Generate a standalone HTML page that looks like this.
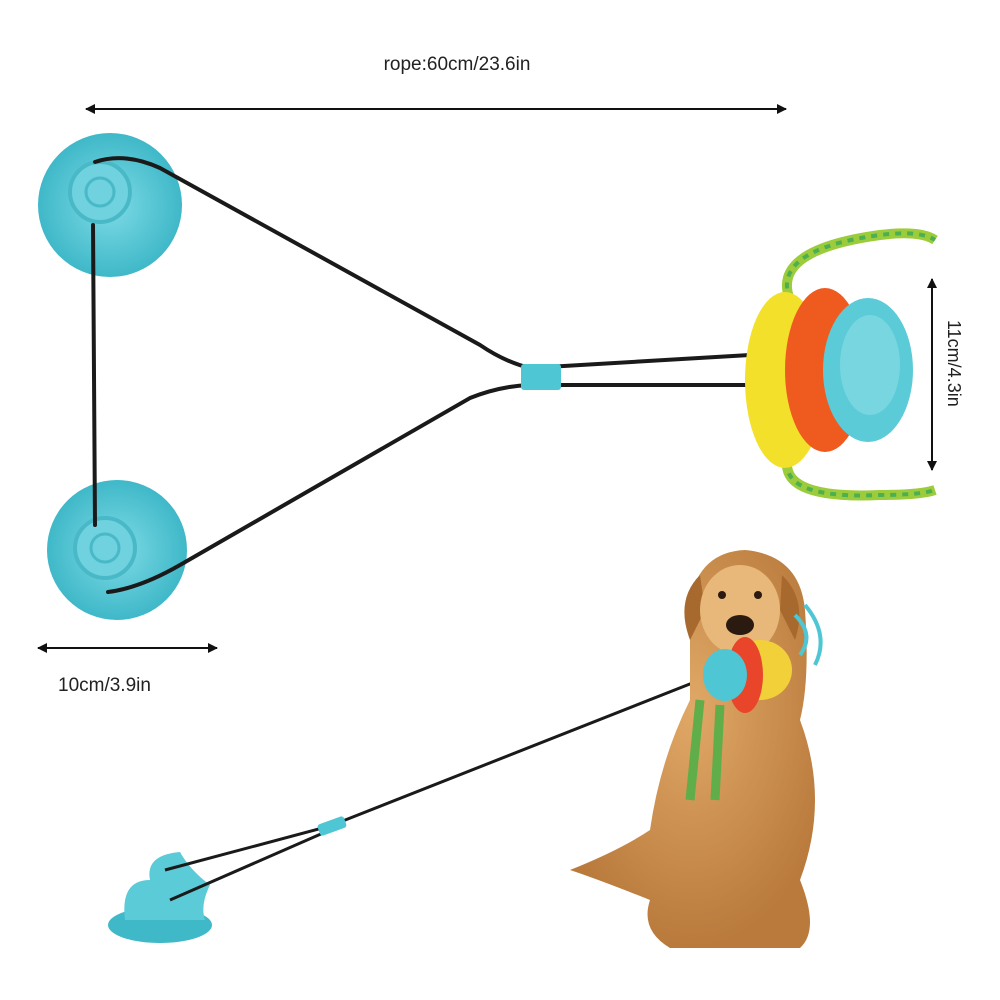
<!DOCTYPE html>
<html><head><meta charset="utf-8"><style>
html,body{margin:0;padding:0;background:#fff;width:1000px;height:1000px;overflow:hidden}
svg{display:block}
text{font-family:"Liberation Sans",sans-serif;fill:#222}
</style></head><body>
<svg width="1000" height="1000" viewBox="0 0 1000 1000" xmlns="http://www.w3.org/2000/svg">
<defs>
<marker id="a" markerWidth="10" markerHeight="10" refX="9" refY="5" orient="auto-start-reverse" markerUnits="userSpaceOnUse"><path d="M0,0 L10,5 L0,10 z" fill="#111"/></marker>
<radialGradient id="cup" cx="50%" cy="50%" r="50%"><stop offset="0" stop-color="#7fdbe6"/><stop offset="1" stop-color="#3fb8c8"/></radialGradient>
<radialGradient id="dog" cx="50%" cy="40%" r="60%"><stop offset="0" stop-color="#e0a866"/><stop offset="1" stop-color="#b97a3c"/></radialGradient>
</defs>

<text x="457" y="70" font-size="19" text-anchor="middle">rope:60cm/23.6in</text>
<line x1="86" y1="109" x2="786" y2="109" stroke="#111" stroke-width="2" marker-start="url(#a)" marker-end="url(#a)"/>

<circle cx="110" cy="205" r="72" fill="url(#cup)"/>
<circle cx="100" cy="192" r="30" fill="#6fd2de" stroke="#49b9c8" stroke-width="4"/>
<circle cx="100" cy="192" r="14" fill="none" stroke="#49b9c8" stroke-width="3"/>
<circle cx="117" cy="550" r="70" fill="url(#cup)"/>
<circle cx="105" cy="548" r="30" fill="#6fd2de" stroke="#49b9c8" stroke-width="4"/>
<circle cx="105" cy="548" r="14" fill="none" stroke="#49b9c8" stroke-width="3"/>

<g fill="none" stroke="#1a1a1a" stroke-width="4" stroke-linecap="round">
<path d="M95,162 Q125,152 160,168 L480,345 Q505,362 530,368 L750,355"/>
<path d="M93,225 L95,525"/>
<path d="M108,592 Q140,588 180,565 L470,398 Q500,386 530,385 L750,385"/>
</g>
<rect x="521" y="364" width="40" height="26" rx="3" fill="#4fc6d4"/>

<g>
<path d="M790,300 Q770,250 880,235 Q920,230 935,240" fill="none" stroke="#9ccc3b" stroke-width="10"/>
<path d="M790,450 Q770,500 880,495 Q920,495 935,490" fill="none" stroke="#9ccc3b" stroke-width="10"/>
<path d="M790,300 Q770,250 880,235 Q920,230 935,240" fill="none" stroke="#4caf50" stroke-width="4" stroke-dasharray="6 6"/>
<path d="M790,450 Q770,500 880,495 Q920,495 935,490" fill="none" stroke="#4caf50" stroke-width="4" stroke-dasharray="6 6"/>
<ellipse cx="785" cy="380" rx="40" ry="88" fill="#f2e02a"/>
<ellipse cx="825" cy="370" rx="40" ry="82" fill="#ef5a1f"/>
<ellipse cx="868" cy="370" rx="45" ry="72" fill="#5ccbd8"/>
<ellipse cx="870" cy="365" rx="30" ry="50" fill="#78d6e0"/>
</g>

<line x1="932" y1="279" x2="932" y2="470" stroke="#111" stroke-width="2" marker-start="url(#a)" marker-end="url(#a)"/>
<text x="0" y="0" font-size="18" transform="translate(948,320) rotate(90)">11cm/4.3in</text>

<line x1="38" y1="648" x2="217" y2="648" stroke="#111" stroke-width="2" marker-start="url(#a)" marker-end="url(#a)"/>
<text x="58" y="691" font-size="19">10cm/3.9in</text>

<ellipse cx="160" cy="925" rx="52" ry="18" fill="#3fb8c8"/>
<path d="M125,920 Q120,880 150,880 Q145,855 180,852 Q190,870 210,885 Q200,905 205,920 Z" fill="#5ccbd8"/>
<g fill="none" stroke="#1a1a1a" stroke-width="3">
<path d="M165,870 L330,826 L700,680"/>
<path d="M170,900 L330,830"/>
</g>
<rect x="318" y="820" width="28" height="12" rx="3" fill="#4fc6d4" transform="rotate(-20 332 826)"/>

<path d="M690,600 Q700,552 745,550 Q800,555 805,610 Q810,680 800,720 Q830,800 800,880 Q820,930 800,948 L670,948 Q640,930 650,900 Q600,880 570,870 Q620,850 650,830 Q660,760 690,700 Z" fill="url(#dog)"/>
<path d="M700,575 Q675,600 690,640 L705,610 Z" fill="#a8692e"/>
<path d="M782,575 Q808,600 795,640 L780,610 Z" fill="#a8692e"/>
<ellipse cx="740" cy="610" rx="40" ry="45" fill="#e8b87a"/>
<ellipse cx="740" cy="625" rx="14" ry="10" fill="#2a1a10"/>
<circle cx="722" cy="595" r="4" fill="#2a1a10"/>
<circle cx="758" cy="595" r="4" fill="#2a1a10"/>
<ellipse cx="760" cy="670" rx="32" ry="30" fill="#f2d03a"/>
<ellipse cx="745" cy="675" rx="18" ry="38" fill="#e8452a"/>
<ellipse cx="725" cy="675" rx="22" ry="26" fill="#4fc6d4"/>
<path d="M700,700 L690,800 M720,705 L715,800" stroke="#5fae4a" stroke-width="9" fill="none"/>
<path d="M795,615 Q815,635 800,655 M805,605 Q830,635 815,665" stroke="#4fc6d4" stroke-width="4" fill="none"/>
</svg>
</body></html>
